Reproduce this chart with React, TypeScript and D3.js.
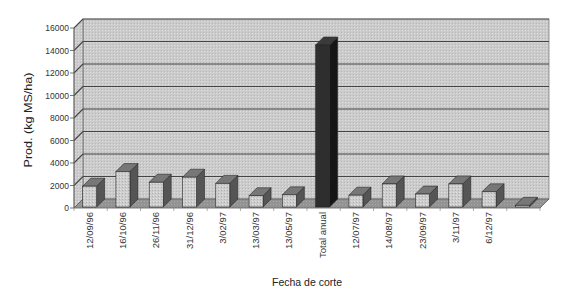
import React from 'react';
import * as d3 from 'd3';

// data
const categories = [
  '12/09/96', '16/10/96', '26/11/96', '31/12/96', '3/02/97', '13/03/97', '13/05/97',
  'Total anual', '12/07/97', '14/08/97', '23/09/97', '3/11/97', '6/12/97', '',
];
const values = [1850, 3150, 2200, 2650, 2100, 1000, 1080, 14400, 1050, 2050, 1150, 2050, 1350, 150];
const yTicks = [0, 2000, 4000, 6000, 8000, 10000, 12000, 14000, 16000];

const width = 572;
const height = 297;
const depthX = 9;
const depthY = -9;
const barDX = 8;
const barDY = -8;

export default function App() {
  const keys = categories.map((c, i) => c + '#' + i);
  const x = d3.scaleBand<string>().domain(keys).range([74, 540]);
  const y = d3.scaleLinear().domain([0, 16000]).range([208, 28]);
  const x0 = 74;
  const x1 = 540;
  const y0 = y(0);
  const yTop = y(16000);

  const pts = (a: number[][]) => a.map((p) => p.join(',')).join(' ');

  return (
    <svg width={width} height={height} style={{ position: 'absolute', left: 0, top: 0, background: '#fff' }}>
      <defs>
        <pattern id="dots" width="3" height="3" patternUnits="userSpaceOnUse">
          <rect width="3" height="3" fill="#cbcbcb" />
          <rect width="1" height="1" fill="#dedede" />
          <rect x="2" y="2" width="1" height="1" fill="#b8b8b8" />
        </pattern>
        <pattern id="floor" width="3" height="3" patternUnits="userSpaceOnUse">
          <rect width="3" height="3" fill="#939393" />
          <rect width="1" height="1" fill="#a8a8a8" />
        </pattern>
        <pattern id="barfront" width="3" height="3" patternUnits="userSpaceOnUse">
          <rect width="3" height="3" fill="#cdcdcd" />
          <rect width="1" height="1" fill="#e2e2e2" />
          <rect x="2" y="1" width="1" height="1" fill="#b0b0b0" />
        </pattern>
      </defs>

      {/* back wall */}
      <rect x={x0 + depthX} y={yTop + depthY} width={x1 - x0} height={y0 - yTop} fill="url(#dots)" stroke="#808080" strokeWidth={0.8} />
      {/* side wall */}
      <polygon
        points={pts([[x0, y0], [x0 + depthX, y0 + depthY], [x0 + depthX, yTop + depthY], [x0, yTop]])}
        fill="url(#dots)"
        stroke="#6a6a6a"
        strokeWidth={0.8}
      />
      {/* gridlines */}
      {yTicks.slice(1).map((t) => (
        <g key={t}>
          <line x1={x0 + depthX} x2={x1 + depthX} y1={y(t) + depthY} y2={y(t) + depthY} stroke="#454545" strokeWidth={t === 16000 ? 0.8 : 1.2} />
          <line x1={x0} x2={x0 + depthX} y1={y(t)} y2={y(t) + depthY} stroke="#454545" strokeWidth={1.1} />
        </g>
      ))}
      {/* floor */}
      <polygon
        points={pts([[x0, y0], [x1, y0], [x1 + depthX, y0 + depthY], [x0 + depthX, y0 + depthY]])}
        fill="url(#floor)"
        stroke="#5a5a5a"
        strokeWidth={0.8}
      />
      {/* front axis line */}
      <line x1={x0} x2={x0} y1={yTop} y2={y0} stroke="#6a6a6a" strokeWidth={0.8} />

      {/* y ticks */}
      {yTicks.map((t) => (
        <g key={'t' + t}>
          <line x1={x0 - 4} x2={x0} y1={y(t)} y2={y(t)} stroke="#555" strokeWidth={0.8} />
          <text x={x0 - 5} y={y(t) + 3} textAnchor="end" fontSize={8.5} fontFamily="Liberation Sans, Arial, sans-serif" fill="#333">
            {t}
          </text>
        </g>
      ))}

      {/* bars */}
      {values.map((v, i) => {
        const cx = (x(keys[i]) as number) + x.bandwidth() / 2;
        const bx = cx - 8;
        const bw = 14;
        const by0 = y0 - 1;
        const by = y(v) - 1;
        const total = categories[i] === 'Total anual';
        return (
          <g key={'b' + i} stroke="#262626" strokeWidth={0.6}>
            <polygon
              points={pts([[bx + bw, by0], [bx + bw + barDX, by0 + barDY], [bx + bw + barDX, by + barDY], [bx + bw, by]])}
              fill={total ? '#161616' : '#555'}
            />
            <polygon
              points={pts([[bx, by], [bx + bw, by], [bx + bw + barDX, by + barDY], [bx + barDX, by + barDY]])}
              fill={total ? '#3a3a3a' : '#777'}
            />
            <rect x={bx} y={by} width={bw} height={by0 - by} fill={total ? '#2e2e2e' : 'url(#barfront)'} />
          </g>
        );
      })}

      {/* x tick marks */}
      {keys.map((k) => (
        <line key={'xt' + k} x1={x(k) as number} x2={x(k) as number} y1={y0} y2={y0 + 3} stroke="#777" strokeWidth={0.6} />
      ))}
      <line x1={x1} x2={x1} y1={y0} y2={y0 + 3} stroke="#777" strokeWidth={0.6} />

      {/* category labels */}
      {keys.map((k, i) => {
        const cx = (x(k) as number) + x.bandwidth() / 2;
        return (
          <text
            key={'l' + k}
            transform={`translate(${cx + 2},212) rotate(-90)`}
            textAnchor="end"
            fontSize={9.5}
            fontFamily="Liberation Sans, Arial, sans-serif"
            fill="#333"
          >
            {categories[i]}
          </text>
        );
      })}

      {/* axis titles */}
      <text
        transform="translate(32,120) rotate(-90)"
        textAnchor="middle"
        fontSize={11}
        fontFamily="Liberation Sans, Arial, sans-serif"
        fill="#222"
        textLength={95}
        lengthAdjust="spacingAndGlyphs"
      >
        Prod. (kg MS/ha)
      </text>
      <text
        x={307}
        y={286}
        textAnchor="middle"
        fontSize={10.5}
        fontFamily="Liberation Sans, Arial, sans-serif"
        fill="#222"
        textLength={70}
        lengthAdjust="spacingAndGlyphs"
      >
        Fecha de corte
      </text>
    </svg>
  );
}
